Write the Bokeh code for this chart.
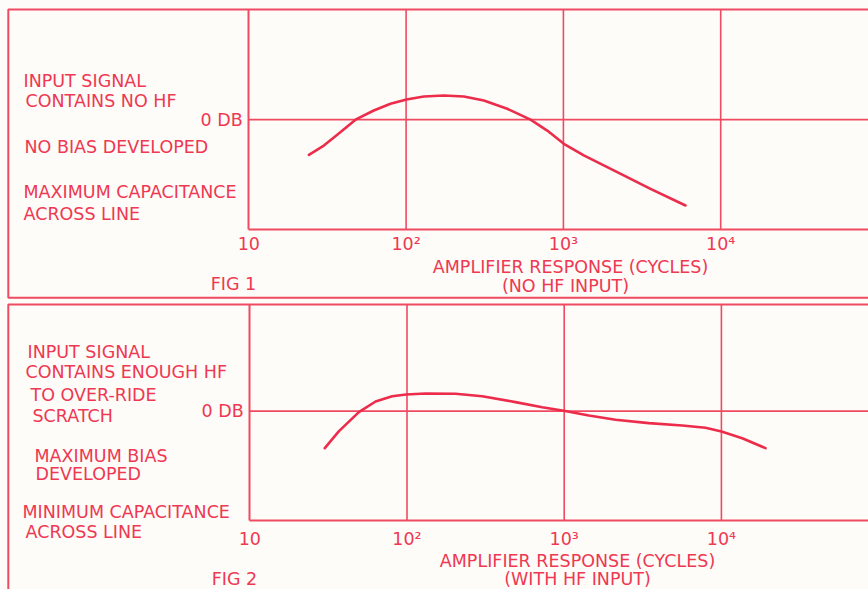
from bokeh.plotting import figure
from bokeh.layouts import column
from bokeh.models import Range1d, FixedTicker, Label, BoxAnnotation
from bokeh.embed import file_html
from bokeh.resources import INLINE

# ---------------- data ----------------
# Fig 1: amplifier response with no HF input (frequency in cycles, level in dB)
fig1_freq = [24.1, 30.0, 36.5, 47.7, 62.3, 79.6, 100.6, 129.6, 173.7, 232.8, 311.9, 439.3,
             618, 789, 1006, 1348, 2198, 3579, 5973]
fig1_db = [-3.19, -2.35, -1.38, 0.0, 0.83, 1.44, 1.83, 2.10, 2.19, 2.10, 1.74, 0.99,
           0.0, -0.99, -2.19, -3.25, -4.77, -6.28, -7.79]

# Fig 2: amplifier response with HF input
fig2_freq = [30.0, 36.8, 49.4, 63.1, 80.5, 98.8, 131.1, 203.5, 300.9, 489.9, 724.4, 994,
             1434, 2121, 3453, 5631, 7924, 10014, 13563, 19080]
fig2_db = [-3.43, -1.88, -0.09, 0.90, 1.39, 1.55, 1.64, 1.61, 1.39, 0.84, 0.37, 0.04,
           -0.40, -0.80, -1.11, -1.33, -1.54, -1.88, -2.51, -3.43]

x_ticks = [10, 100, 1000, 10000]
x_tick_labels = ["10", "10\u00b2", "10\u00b3", "10\u2074"]
x_grid_ticks = [100, 1000, 10000]
y_ticks = [0]
y_tick_labels = ["0 DB"]
fig1_ylim = [-10, 10]
fig2_ylim = [-10.1, 9.9]

fig1_notes = ["INPUT SIGNAL", "CONTAINS NO HF", "NO BIAS DEVELOPED", "MAXIMUM CAPACITANCE", "ACROSS LINE"]
fig1_axis_title = ["AMPLIFIER RESPONSE (CYCLES)", "(NO HF INPUT)"]
fig1_caption = "FIG 1"

fig2_notes = ["INPUT SIGNAL", "CONTAINS ENOUGH HF", "TO OVER-RIDE", "SCRATCH",
              "MAXIMUM BIAS", "DEVELOPED", "MINIMUM CAPACITANCE", "ACROSS LINE"]
fig2_axis_title = ["AMPLIFIER RESPONSE (CYCLES)", "(WITH HF INPUT)"]
fig2_caption = "FIG 2"

# ---------------- layout / style ----------------
LINE = "#f04a62"
CURVE = "#ec2c4a"
TEXT = "#ef3852"
PAPER = "#fdfcf8"
FONT = "DejaVu Sans"
FS = "17.5px"
W = 868

# text positions: screen px from the canvas' bottom-left corner (y up)
fig1_note_pos = [(23, 220), (25, 200), (24, 154), (23, 109), (23, 87)]
fig1_title_pos = [(570, 34), (565, 15)]
fig1_caption_pos = (233, 17)

fig2_note_pos = [(27, 238), (25, 218), (30, 195), (32, 174),
                 (34, 134), (35, 116), (22, 78), (25, 58)]
fig2_title_pos = [(577, 28.5), (577, 11)]
fig2_caption_pos = (234, 11)


def make_panel(height, x0_px, decade_px, top_px, bottom_px, ylim, box, freq, db,
               notes, note_pos, title, title_pos, caption, caption_pos, standoff):
    # log-x range so that 10 sits at x0_px and one decade spans decade_px
    lo = 10 ** (1 - x0_px / decade_px)
    hi = 10 ** (1 + (W - x0_px) / decade_px)
    # y range: ylim spans from top_px to bottom_px (canvas px from top)
    per = (bottom_px - top_px) / (ylim[1] - ylim[0])
    ylo = ylim[0] - (height - bottom_px) / per
    yhi = ylim[1] + top_px / per
    p = figure(width=W, height=height, x_axis_type="log",
               x_range=Range1d(lo, hi), y_range=Range1d(ylo, yhi),
               output_backend="svg", toolbar_location=None,
               min_border=0, min_border_left=0, min_border_right=0,
               min_border_top=0, min_border_bottom=0)
    p.background_fill_color = PAPER
    p.border_fill_color = PAPER
    p.outline_line_color = None
    p.xgrid.visible = False
    p.ygrid.visible = False

    xa = p.xaxis[0]
    xa.fixed_location = ylim[0]
    xa.bounds = (x_ticks[0], hi * 10)
    xa.ticker = FixedTicker(ticks=x_ticks, minor_ticks=[])
    xa.major_label_overrides = {t: s for t, s in zip(x_ticks, x_tick_labels)}
    xa.axis_line_color = LINE
    xa.axis_line_width = 2
    xa.major_tick_line_color = None
    xa.minor_tick_line_color = None
    xa.major_tick_out = 0
    xa.major_tick_in = 0
    xa.major_label_text_color = TEXT
    xa.major_label_text_font = FONT
    xa.major_label_text_font_size = FS
    xa.major_label_standoff = standoff

    ya = p.yaxis[0]
    ya.fixed_location = x_ticks[0]
    ya.bounds = tuple(ylim)
    ya.ticker = FixedTicker(ticks=y_ticks, minor_ticks=[])
    ya.major_label_overrides = {t: s for t, s in zip(y_ticks, y_tick_labels)}
    ya.axis_line_color = LINE
    ya.axis_line_width = 2
    ya.major_tick_line_color = None
    ya.minor_tick_line_color = None
    ya.major_tick_out = 0
    ya.major_tick_in = 0
    ya.major_label_text_color = TEXT
    ya.major_label_text_font = FONT
    ya.major_label_text_font_size = FS
    ya.major_label_standoff = 6

    # grid lines inside the plotting box
    n = len(x_grid_ticks)
    p.segment(x0=x_grid_ticks, y0=[ylim[0]] * n, x1=x_grid_ticks, y1=[ylim[1]] * n,
              line_color=LINE, line_width=1.6)
    p.segment(x0=[x_ticks[0]] * len(y_ticks), y0=y_ticks, x1=[hi * 10] * len(y_ticks), y1=y_ticks,
              line_color=LINE, line_width=1.6)

    # outer panel border (screen px from canvas bottom-left)
    p.add_layout(BoxAnnotation(left=box[0], right=W + 50, top=box[1], bottom=box[2],
                               left_units="screen", right_units="screen",
                               top_units="screen", bottom_units="screen",
                               fill_color=None, line_color=LINE, line_alpha=1.0,
                               line_width=2))

    p.line(freq, db, line_color=CURVE, line_width=2.6, line_join="round", line_cap="round")

    def lab(txt, x, y, align="left"):
        p.add_layout(Label(x=x, y=y, x_units="screen", y_units="screen", text=txt,
                           text_font=FONT, text_font_size=FS, text_color=TEXT,
                           text_align=align, text_baseline="alphabetic"))

    for txt, (x, y) in zip(notes, note_pos):
        lab(txt, x, y)
    for txt, (x, y) in zip(title, title_pos):
        lab(txt, x, y, "center")
    lab(caption, caption_pos[0], caption_pos[1], "center")
    return p


p1 = make_panel(300, 248.3, 157.3, 9.0, 229.3, fig1_ylim, (7.8, 291.0, 2.7), fig1_freq, fig1_db,
                fig1_notes, fig1_note_pos, fig1_axis_title, fig1_title_pos,
                fig1_caption, fig1_caption_pos, 4)
p2 = make_panel(289, 249.3, 157.2, 4.0, 219.5, fig2_ylim, (7.8, 285.0, -100), fig2_freq, fig2_db,
                fig2_notes, fig2_note_pos, fig2_axis_title, fig2_title_pos,
                fig2_caption, fig2_caption_pos, 9)

layout = column(p1, p2, spacing=0)
open("out.html", "w").write(file_html(layout, INLINE))
